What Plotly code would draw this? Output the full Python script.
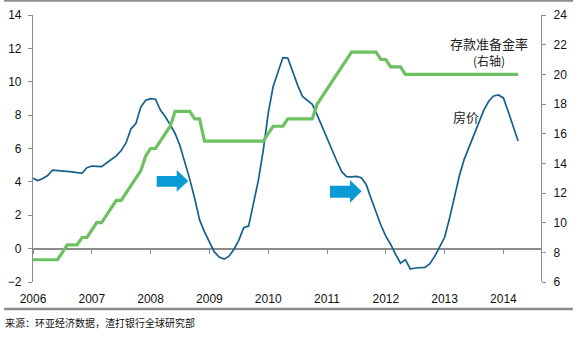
import plotly.graph_objects as go

# Monthly data, Jan 2006 - Apr 2014
start_year = 2006
house_price = [
    4.22, 4.08, 4.20, 4.38, 4.71, 4.69, 4.67, 4.63, 4.60, 4.55, 4.52, 4.85,
    4.95, 4.93, 4.91, 5.13, 5.33, 5.56, 5.88, 6.35, 7.18, 7.50, 8.48, 8.89,
    8.99, 8.95, 8.30, 7.90, 7.42, 6.90, 6.17, 5.20, 4.15, 3.00, 1.72, 1.00,
    0.38, -0.20, -0.50, -0.63, -0.45, -0.05, 0.50, 1.26, 1.35, 2.80, 4.10, 5.90,
    8.10, 9.70, 10.60, 11.45, 11.42, 10.60, 9.80, 9.12, 8.90, 8.65, 8.00, 7.30,
    6.57, 5.90, 5.25, 4.61, 4.31, 4.30, 4.33, 4.25, 3.85, 3.00, 2.20, 1.40,
    0.75, 0.25, -0.35, -0.87, -0.66, -1.22, -1.16, -1.13, -1.12, -0.90, -0.45, 0.10,
    0.68, 1.80, 3.10, 4.35, 5.35, 6.10, 6.83, 7.63, 8.30, 8.83, 9.15, 9.21,
    9.03, 8.20, 7.35, 6.45,
]
rrr = [
    7.5, 7.5, 7.5, 7.5, 7.5, 7.5, 8.0, 8.5, 8.5, 8.5, 9.0, 9.0,
    9.5, 10.0, 10.0, 10.5, 11.0, 11.5, 11.5, 12.0, 12.5, 13.0, 13.5, 14.5,
    15.0, 15.0, 15.5, 16.0, 16.5, 17.5, 17.5, 17.5, 17.5, 17.0, 17.0, 15.5,
    15.5, 15.5, 15.5, 15.5, 15.5, 15.5, 15.5, 15.5, 15.5, 15.5, 15.5, 15.5,
    16.0, 16.5, 16.5, 16.5, 17.0, 17.0, 17.0, 17.0, 17.0, 17.0, 18.0, 18.5,
    19.0, 19.5, 20.0, 20.5, 21.0, 21.5, 21.5, 21.5, 21.5, 21.5, 21.5, 21.0,
    21.0, 20.5, 20.5, 20.5, 20.0, 20.0, 20.0, 20.0, 20.0, 20.0, 20.0, 20.0,
    20.0, 20.0, 20.0, 20.0, 20.0, 20.0, 20.0, 20.0, 20.0, 20.0, 20.0, 20.0,
    20.0, 20.0, 20.0, 20.0,
]
year_ticks = [2006, 2007, 2008, 2009, 2010, 2011, 2012, 2013, 2014]
x_vals = [start_year + i / 12 for i in range(len(house_price))]

W, H = 582, 346
L, R, T, B = 33, 41, 15, 64
pw, ph = W - L - R, H - T - B


def px(x):
    return (x - L) / pw


def py(y):
    return (H - B - y) / ph


def arrow(x0, xh, xt, bt, bb, ht, hb, cy):
    pts = [(x0, bt), (xh, bt), (xh, ht), (xt, cy), (xh, hb), (xh, bb), (x0, bb)]
    d = "M " + " L ".join(f"{px(a):.4f},{py(b):.4f}" for a, b in pts) + " Z"
    return dict(type="path", xref="paper", yref="paper", path=d,
                fillcolor="#0A9AD6", line=dict(width=0), layer="above")


xr = [2006, 2006 + (541 - 33) / 58.8]
blue = "#14608F"
green = "#6CC160"
gray = "#8C8C8C"
tickfont = dict(family="Liberation Sans, Arial, sans-serif", size=12, color="#111")
cjk = "Noto Sans CJK SC"

fig = go.Figure()
fig.add_trace(go.Scatter(x=x_vals, y=rrr, xaxis="x", yaxis="y2", mode="lines",
                         line=dict(color=green, width=3.2), hoverinfo="skip"))
fig.add_trace(go.Scatter(x=x_vals, y=house_price, xaxis="x", yaxis="y", mode="lines",
                         line=dict(color=blue, width=1.7), hoverinfo="skip"))
# carrier for the tick marks on the zero line
fig.add_trace(go.Scatter(x=[None], y=[None], xaxis="x2", yaxis="y", mode="lines",
                         hoverinfo="skip"))

fig.update_layout(
    width=W, height=H,
    margin=dict(l=L, r=R, t=T, b=B, autoexpand=False),
    paper_bgcolor="white", plot_bgcolor="white",
    showlegend=False,
    xaxis=dict(range=xr, tickvals=year_ticks, ticktext=[str(y) for y in year_ticks],
               showgrid=False, zeroline=False, showline=False, ticks="",
               tickfont=tickfont, anchor="y", ticklabelstandoff=8, automargin=False),
    xaxis2=dict(range=xr, tickvals=year_ticks, overlaying="x", anchor="free",
                position=0.125, showgrid=False, zeroline=False, showline=False,
                ticks="outside", ticklen=4, tickcolor=gray, showticklabels=False,
                automargin=False),
    yaxis=dict(range=[-2, 14], dtick=2, showgrid=False, zeroline=True,
               zerolinecolor=gray, zerolinewidth=1.5, showline=True, linecolor=gray,
               linewidth=1.2, ticks="outside", ticklen=4, tickcolor=gray,
               tickfont=tickfont, anchor="x", ticklabelstandoff=4, automargin=False),
    yaxis2=dict(range=[6, 24], dtick=2, overlaying="y", side="right", anchor="x",
                showgrid=False, zeroline=False, showline=True, linecolor=gray,
                linewidth=1.2, ticks="outside", ticklen=4, tickcolor=gray,
                tickfont=tickfont, ticklabelstandoff=5, automargin=False),
    shapes=[
        dict(type="line", xref="paper", yref="paper", x0=px(4), x1=px(573),
             y0=py(0.8), y1=py(0.8), line=dict(color=gray, width=2)),
        dict(type="line", xref="paper", yref="paper", x0=px(4), x1=px(573),
             y0=py(309), y1=py(309), line=dict(color=gray, width=2.5)),
        arrow(156.7, 176.7, 188.3, 176, 186.7, 170, 191.7, 181),
        arrow(330, 350, 361.7, 185.7, 197.7, 180, 202.7, 191.3),
    ],
    annotations=[
        dict(text="存款准备金率", xref="paper", yref="paper", x=px(489), y=py(43),
             showarrow=False, font=dict(family=cjk, size=13, color="#222"),
             xanchor="center", yanchor="middle"),
        dict(text="(右轴)", xref="paper", yref="paper", x=px(489), y=py(61),
             showarrow=False, font=dict(family=cjk, size=12, color="#222"),
             xanchor="center", yanchor="middle"),
        dict(text="房价", xref="paper", yref="paper", x=px(466), y=py(116),
             showarrow=False, font=dict(family=cjk, size=13, color="#222"),
             xanchor="center", yanchor="middle"),
        dict(text="来源：环亚经济数据，渣打银行全球研究部", xref="paper", yref="paper",
             x=px(3), y=py(322), showarrow=False,
             font=dict(family=cjk, size=10, color="#111"),
             xanchor="left", yanchor="middle"),
    ],
)

fig.write_html("out.html")
